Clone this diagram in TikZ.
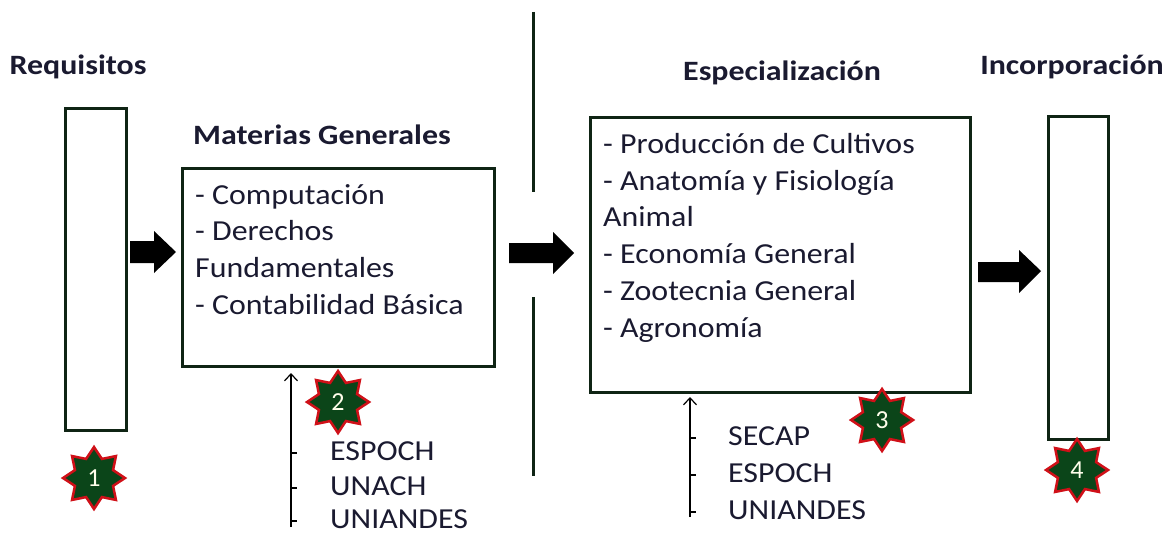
\documentclass[tikz,border=0pt]{standalone}
\usepackage{fontspec}
\setmainfont{Carlito}
\newfontfamily\ancho[FakeStretch=1.1]{Carlito}
\newfontfamily\anchob[FakeStretch=1.14]{Carlito Bold}
\usetikzlibrary{positioning,shapes.geometric,arrows.meta}
\definecolor{verde}{HTML}{0F2414}
\definecolor{estrella}{HTML}{0B4519}
\definecolor{rojo}{HTML}{D01018}
\definecolor{tinta}{HTML}{1A1A30}
\tikzset{
  caja/.style={draw=verde,line width=3pt,anchor=north west,inner sep=0pt},
  titulo/.style={font=\anchob\fontsize{28}{32}\selectfont,text=tinta},
  lista/.style={font=\ancho\fontsize{29}{36.8}\selectfont,text=tinta,align=left,anchor=north west,inner sep=0pt},
  inst/.style={font=\ancho\fontsize{29}{35}\selectfont,text=tinta,anchor=west,inner sep=0pt},
  num/.style={star,star points=8,star point ratio=1.5,minimum size=62pt,inner sep=0pt,
    fill=estrella,draw=rojo,line width=2.5pt,text=yellow!8,font=\fontsize{26}{26}\selectfont},
  linea/.style={draw=verde,line width=3pt},
  flechita/.style={line width=1.2pt,-{Straight Barb[length=7pt,width=13pt]}},
}
\begin{document}
\begin{tikzpicture}[x=1pt,y=-1pt]
\useasboundingbox (0,0) rectangle (1164,535);

%Requisitos
\node[titulo] (treq) at (78,67) {Requisitos};
\node[caja,minimum width=61pt,minimum height=322pt] (req) at (64,107) {};
\node[num] (s1) at (94,478) {1};

%Materias Generales
\node[titulo] (tmat) at (322,135) {Materias Generales};
\node[caja,minimum width=312pt,minimum height=198pt] (mat) at (181,167) {};
\node[lista] (lmat) at (195,184) {- Computación\\- Derechos\\Fundamentales\\- Contabilidad Básica};
\node[num] (s2) at (338,402) {2};
\coordinate (m0) at (291,527);
\coordinate (m1) at (291,373);
\draw[flechita] (m0) -- (m1);
\foreach \y/\t in {453/ESPOCH,488/UNACH,521/UNIANDES}{
  \draw[line width=1.2pt] (291,\y) -- ++(6,0);
  \node[inst] at (330,\y-2) {\t};
}

%separacion
\draw[linea] (533,12) -- (533,192);
\draw[linea] (533,297) -- (533,476);

%Especializacion
\node[titulo] (tesp) at (782,73) {Especialización};
\node[caja,minimum width=380pt,minimum height=275pt] (esp) at (589,116) {};
\node[lista] (lesp) at (603,133) {- Producción de Cultivos\\- Anatomía y Fisiología\\Animal\\- Economía General\\- Zootecnia General\\- Agronomía};
\node[num] (s3) at (882,420) {3};
\coordinate (e0) at (690,517);
\coordinate (e1) at (690,397);
\draw[flechita] (e0) -- (e1);
\foreach \y/\t in {438/SECAP,475/ESPOCH,512/UNIANDES}{
  \draw[line width=1.2pt] (690,\y) -- ++(6,0);
  \node[inst] at (728,\y-2) {\t};
}

%Incorporacion
\node[titulo] (tinc) at (1072,67) {Incorporación};
\node[caja,minimum width=60pt,minimum height=323pt] (inc) at (1047,115) {};
\node[num] (s4) at (1077,470) {4};

%flechas
\fill (130,241) -- (154,241) -- (154,231) -- (176,252) -- (154,273) -- (154,263) -- (130,263) -- cycle;
\fill (509,243) -- (553,243) -- (553,232) -- (574,253) -- (553,274) -- (553,263) -- (509,263) -- cycle;
\fill (978,262) -- (1019,262) -- (1019,250) -- (1041,271) -- (1019,293) -- (1019,282) -- (978,282) -- cycle;

\end{tikzpicture}
\end{document}
